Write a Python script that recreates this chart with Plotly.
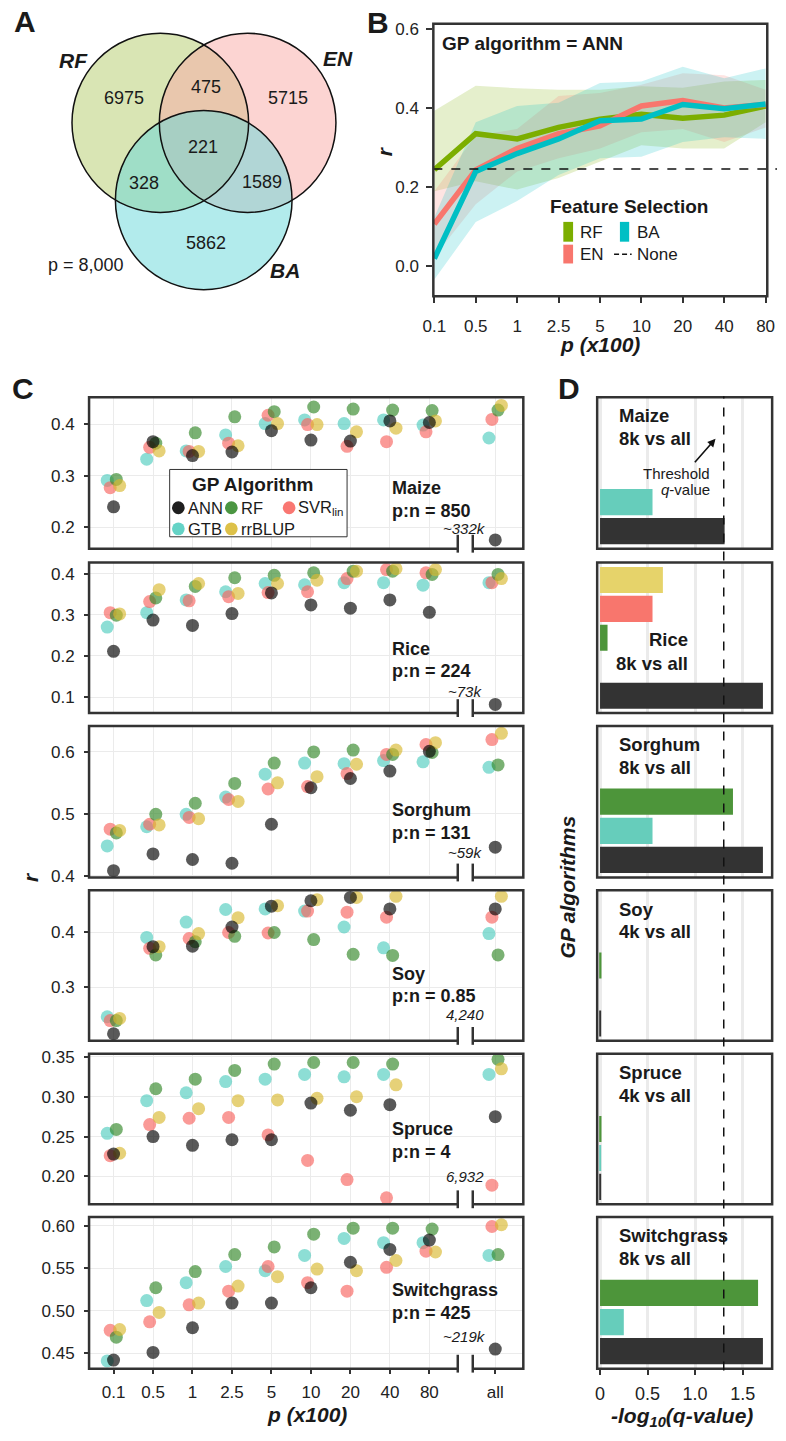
import math
import plotly.graph_objects as go

W, H = 786, 1441
def px(x): return x / W
def py(y): return 1 - y / H

FONT = "Liberation Sans, Arial, Helvetica, sans-serif"
NARROW = "Liberation Sans Narrow, Liberation Sans, Arial, sans-serif"
INK = "#1a1a1a"
FRAME = "#333333"
GRID = "#ebebeb"

# ---------------- data ----------------
# Panel A (Venn of selected markers)
VENN_REGIONS = ["RF", "RF&EN", "EN", "RF&BA", "RF&EN&BA", "EN&BA", "BA"]
VENN_COUNTS = [6975, 475, 5715, 328, 221, 1589, 5862]
VENN_TOTAL = "8,000"

# Panel B (ANN, feature selection)
B_P = ["0.1", "0.5", "1", "2.5", "5", "10", "20", "40", "80"]
B_RF = [0.244, 0.335, 0.322, 0.351, 0.372, 0.384, 0.374, 0.382, 0.405]
B_RF_LO = [0.190, 0.215, 0.194, 0.223, 0.264, 0.306, 0.298, 0.298, 0.364]
B_RF_HI = [0.393, 0.456, 0.450, 0.446, 0.446, 0.455, 0.451, 0.467, 0.471]
B_EN = [0.107, 0.244, 0.298, 0.335, 0.355, 0.405, 0.419, 0.400, 0.409]
B_EN_LO = [0.025, 0.157, 0.240, 0.273, 0.298, 0.339, 0.347, 0.314, 0.351]
B_EN_HI = [0.190, 0.330, 0.347, 0.430, 0.438, 0.459, 0.488, 0.483, 0.446]
B_BA = [0.020, 0.240, 0.285, 0.322, 0.368, 0.372, 0.409, 0.398, 0.410]
B_BA_LO = [-0.033, 0.112, 0.165, 0.231, 0.273, 0.277, 0.314, 0.326, 0.322]
B_BA_HI = [0.124, 0.364, 0.405, 0.413, 0.463, 0.467, 0.504, 0.475, 0.500]
B_NONE = 0.246

# Panel C
C_P = ["0.1", "0.5", "1", "2.5", "5", "10", "20", "40", "80", "all"]
C_POS = [0, 1, 2, 3, 4, 5, 6, 7, 8, 9.67]
ALGOS = ["ANN", "GTB", "RF", "SVR", "rrBLUP"]
SPECIES = ["Maize", "Rice", "Sorghum", "Soy", "Spruce", "Switchgrass"]
PN_RATIO = ["850", "224", "131", "0.85", "4", "425"]
ALL_MARKERS = ["~332k", "~73k", "~59k", "4,240", "6,932", "~219k"]

MAIZE = {
    "ANN":    [0.240, 0.366, 0.339, 0.346, 0.387, 0.369, 0.367, 0.406, 0.403, 0.176],
    "GTB":    [0.291, 0.332, 0.348, 0.379, 0.401, 0.408, 0.401, 0.408, 0.398, 0.373],
    "RF":     [0.293, 0.363, 0.383, 0.414, 0.424, 0.433, 0.429, 0.427, 0.426, 0.427],
    "SVR":    [0.277, 0.355, 0.347, 0.363, 0.417, 0.399, 0.357, 0.366, 0.385, 0.409],
    "rrBLUP": [0.281, 0.348, 0.347, 0.358, 0.401, 0.399, 0.385, 0.392, 0.406, 0.436],
}
RICE = {
    "ANN":    [0.211, 0.287, 0.274, 0.303, 0.353, 0.324, 0.316, 0.336, 0.306, 0.082],
    "GTB":    [0.270, 0.305, 0.336, 0.356, 0.376, 0.373, 0.378, 0.378, 0.372, 0.378],
    "RF":     [0.299, 0.341, 0.369, 0.390, 0.396, 0.402, 0.406, 0.406, 0.398, 0.398],
    "SVR":    [0.305, 0.332, 0.334, 0.344, 0.354, 0.356, 0.388, 0.410, 0.402, 0.378],
    "rrBLUP": [0.302, 0.361, 0.376, 0.352, 0.376, 0.384, 0.406, 0.412, 0.410, 0.388],
}
SORGHUM = {
    "ANN":    [0.408, 0.435, 0.426, 0.420, 0.483, 0.542, 0.557, 0.569, 0.601, 0.446],
    "GTB":    [0.448, 0.479, 0.499, 0.527, 0.564, 0.582, 0.581, 0.586, 0.584, 0.575],
    "RF":     [0.469, 0.499, 0.517, 0.549, 0.582, 0.600, 0.603, 0.596, 0.599, 0.579],
    "SVR":    [0.475, 0.483, 0.494, 0.523, 0.540, 0.544, 0.565, 0.596, 0.612, 0.620],
    "rrBLUP": [0.473, 0.482, 0.492, 0.520, 0.550, 0.560, 0.580, 0.603, 0.615, 0.630],
}
SOY = {
    "ANN":    [0.215, 0.374, 0.375, 0.410, 0.448, 0.458, 0.464, 0.443, None, 0.443],
    "GTB":    [0.246, 0.391, 0.419, 0.442, 0.443, 0.439, 0.410, 0.372, None, 0.398],
    "RF":     [0.239, 0.359, 0.383, 0.393, 0.400, 0.387, 0.360, 0.358, None, 0.359],
    "SVR":    [0.239, 0.371, 0.389, 0.400, 0.399, 0.439, 0.437, 0.428, None, 0.428],
    "rrBLUP": [0.243, 0.374, 0.398, 0.427, 0.449, 0.460, 0.464, 0.466, None, 0.466],
}
SPRUCE = {
    "ANN":    [0.228, 0.250, 0.239, 0.246, 0.246, 0.292, 0.283, 0.290, None, 0.275],
    "GTB":    [0.254, 0.295, 0.305, 0.319, 0.322, 0.328, 0.325, 0.328, None, 0.328],
    "RF":     [0.259, 0.310, 0.322, 0.333, 0.341, 0.343, 0.343, 0.341, None, 0.347],
    "SVR":    [0.226, 0.265, 0.273, 0.274, 0.252, 0.220, 0.196, 0.173, None, 0.189],
    "rrBLUP": [0.229, 0.274, 0.285, 0.295, 0.296, 0.298, 0.300, 0.315, None, 0.335],
}
SWITCHGRASS = {
    "ANN":    [0.442, 0.451, 0.480, 0.509, 0.509, 0.527, 0.557, 0.572, 0.583, 0.455],
    "GTB":    [0.441, 0.512, 0.533, 0.552, 0.547, 0.565, 0.585, 0.580, 0.580, 0.565],
    "RF":     [0.469, 0.527, 0.546, 0.566, 0.575, 0.590, 0.597, 0.597, 0.596, 0.566],
    "SVR":    [0.477, 0.487, 0.507, 0.523, 0.552, 0.533, 0.523, 0.551, 0.570, 0.599],
    "rrBLUP": [0.478, 0.498, 0.509, 0.529, 0.540, 0.549, 0.547, 0.559, 0.569, 0.601],
}
C_DATA = [MAIZE, RICE, SORGHUM, SOY, SPRUCE, SWITCHGRASS]
C_YTICKS = [[0.2, 0.3, 0.4], [0.1, 0.2, 0.3, 0.4], [0.4, 0.5, 0.6], [0.3, 0.4],
            [0.20, 0.25, 0.30, 0.35], [0.45, 0.50, 0.55, 0.60]]
C_YFMT = ["{:.1f}", "{:.1f}", "{:.1f}", "{:.1f}", "{:.2f}", "{:.2f}"]
C_YRANGE = [[0.159, 0.452], [0.061, 0.427], [0.397, 0.642], [0.202, 0.477],
            [0.165, 0.354], [0.432, 0.610]]

# Panel D: -log10(q-value), one value per species
D_ANN = [1.31, 1.713, 1.713, 0.006, 0.006, 1.713]
D_GTB = [0.552, 0.0, 0.552, 0.0, 0.012, 0.25]
D_RF = [0.0, 0.079, 1.398, 0.015, 0.015, 1.662]
D_SVR = [0.0, 0.552, 0.0, 0.0, 0.0, 0.0]
D_RRBLUP = [0.0, 0.661, 0.0, 0.0, 0.0, 0.0]
D_COMPARE = ["8k vs all", "8k vs all", "8k vs all", "4k vs all", "4k vs all", "8k vs all"]
Q_THRESHOLD = 0.05

# ---------------- styles ----------------
PT_COL = {"ANN": "#000000", "GTB": "#50cdbe", "RF": "#328728", "SVR": "#f8645f", "rrBLUP": "#d8b830"}
LEG_COL = {"ANN": "rgba(0,0,0,0.88)", "GTB": "rgba(80,205,190,0.88)", "RF": "rgba(50,135,40,0.88)",
           "SVR": "rgba(248,100,95,0.88)", "rrBLUP": "rgba(216,184,48,0.88)"}
BAR_COL = {"ANN": "#333333", "GTB": "#66cdbb", "RF": "#4d953a", "SVR": "#f8766d", "rrBLUP": "#e6d36a"}
DODGE = {"GTB": -0.16, "SVR": -0.085, "ANN": 0.0, "RF": 0.07, "rrBLUP": 0.155}
DRAW_ORDER = ["GTB", "SVR", "RF", "rrBLUP", "ANN"]
FS_COL = {"RF": "#7cae00", "EN": "#f8766d", "BA": "#00bfc4"}
FS_FILL = {"RF": "rgba(124,174,0,0.2)", "EN": "rgba(248,118,109,0.2)", "BA": "rgba(0,191,196,0.2)"}

# row pixel bounds (top, bottom) for C and D panels
ROWS = [(395, 548), (562, 714), (727, 880), (893, 1045), (1058, 1210), (1223, 1376)]
C_LABEL_Y = [(487, 510, 528), (649, 672, 692), (812, 835, 855), (977, 1000, 1018),
             (1134, 1157, 1182), (1297, 1320, 1344)]

fig = go.Figure()
layout = dict(width=W, height=H, autosize=False, margin=dict(l=0, r=0, t=0, b=0),
              paper_bgcolor="white", plot_bgcolor="rgba(0,0,0,0)", showlegend=False,
              font=dict(family=FONT, color=INK))
shapes, annos = [], []

def text(x, y, s, size, xanchor="center", yanchor="middle", angle=0, family=FONT, color=INK):
    annos.append(dict(x=px(x), y=py(y), xref="paper", yref="paper", text=s, showarrow=False,
                      xanchor=xanchor, yanchor=yanchor, textangle=angle,
                      font=dict(size=size, family=family, color=color)))

def frame(n):
    shapes.append(dict(type="rect", xref=f"x{n} domain", yref=f"y{n} domain", x0=0, x1=1, y0=0, y1=1,
                       line=dict(color=FRAME, width=2.5), fillcolor="rgba(0,0,0,0)", layer="above"))

# ---------------- Panel A: Venn ----------------
layout["xaxis"] = dict(domain=[0, px(360)], range=[0, 360], visible=False, fixedrange=True)
layout["yaxis"] = dict(domain=[py(300), 1], range=[300, 0], visible=False, fixedrange=True)
circles = {"RF": ((153, 118), 90.5, "#b3cb69"), "EN": ((242.5, 118), 90.5, "#f9a9a5"),
           "BA": ((197.5, 196), 90.5, "#65d7d9")}
for k in ["RF", "EN", "BA"]:
    (cx, cy), r, col = circles[k]
    shapes.append(dict(type="circle", xref="x", yref="y", x0=cx - r, x1=cx + r, y0=cy - r, y1=cy + r,
                       fillcolor=col, opacity=0.5, line=dict(width=0), layer="below"))
for k in ["RF", "EN", "BA"]:
    (cx, cy), r, col = circles[k]
    shapes.append(dict(type="circle", xref="x", yref="y", x0=cx - r, x1=cx + r, y0=cy - r, y1=cy + r,
                       fillcolor="rgba(0,0,0,0)", line=dict(width=1.5, color="#111111"), layer="above"))
venn_xy = {"RF": (115.7, 93.3), "RF&EN": (200, 81.7), "EN": (284, 93), "RF&BA": (136, 178.3),
           "RF&EN&BA": (197, 142.7), "EN&BA": (257, 178), "BA": (200, 239.3)}
for reg, cnt in zip(VENN_REGIONS, VENN_COUNTS):
    x, y = venn_xy[reg]
    text(x, y, str(cnt), 18)
text(64, 55, "<b><i>RF</i></b>", 21)
text(335, 53, "<b><i>EN</i></b>", 21)
text(281, 267, "<b><i>BA</i></b>", 21)
text(76.7, 261.7, f"p = {VENN_TOTAL}", 18)

# ---------------- Panel B ----------------
layout["xaxis2"] = dict(domain=[px(432.8), px(775)], type="category", range=[-0.024, 8.04],
                        anchor="y2", showgrid=False, zeroline=False, ticks="outside", ticklen=6,
                        tickwidth=1.5, tickcolor=FRAME, tickfont=dict(size=17, color="#222"),
                        ticklabelstandoff=8, fixedrange=True)
layout["yaxis2"] = dict(domain=[py(293), py(18)], range=[-0.075, 0.6125], anchor="x2",
                        tickvals=[0, 0.2, 0.4, 0.6], ticktext=["0.0", "0.2", "0.4", "0.6"],
                        showgrid=False, zeroline=False, ticks="outside", ticklen=6, tickwidth=1.5,
                        tickcolor=FRAME, tickfont=dict(size=17, color="#222"), ticklabelstandoff=4,
                        fixedrange=True)
for key, lo, hi in [("RF", B_RF_LO, B_RF_HI), ("EN", B_EN_LO, B_EN_HI), ("BA", B_BA_LO, B_BA_HI)]:
    fig.add_trace(go.Scatter(x=B_P + B_P[::-1], y=hi + lo[::-1], fill="toself", fillcolor=FS_FILL[key],
                             line=dict(width=0), mode="lines", xaxis="x2", yaxis="y2", hoverinfo="skip"))
for key, vals in [("RF", B_RF), ("EN", B_EN), ("BA", B_BA)]:
    fig.add_trace(go.Scatter(x=B_P, y=vals, mode="lines", line=dict(color=FS_COL[key], width=5.5),
                             xaxis="x2", yaxis="y2", name=key))
shapes.append(dict(type="line", xref="paper", yref="y2", x0=px(432.8), x1=px(785), y0=B_NONE, y1=B_NONE,
                   line=dict(color="#111111", width=1.5, dash="dash"), layer="above"))
frame(2)
text(439.5, 38, "<b>GP algorithm = ANN</b>", 19, xanchor="left")
text(550, 202, "<b>Feature Selection</b>", 19, xanchor="left")
for (x0, x1, y0, y1, k) in [(566, 576, 218, 238, "RF"), (624, 633.5, 218, 238, "BA"), (566, 576, 241, 260, "EN")]:
    shapes.append(dict(type="rect", xref="paper", yref="paper", x0=px(x0), x1=px(x1), y0=py(y1), y1=py(y0),
                       fillcolor=FS_COL[k], line=dict(width=0), layer="above"))
shapes.append(dict(type="line", xref="paper", yref="paper", x0=px(618), x1=px(636), y0=py(250.7), y1=py(250.7),
                   line=dict(color="#111111", width=1.5, dash="5px,3px"), layer="above"))
text(581, 229, "RF", 17, xanchor="left")
text(639, 229, "BA", 17, xanchor="left")
text(581, 250.7, "EN", 17, xanchor="left")
text(639, 250.7, "None", 17, xanchor="left")
text(383, 147, "<b><i>r</i></b>", 21, angle=-90)
text(604, 342, "<b><i>p (x100)</i></b>", 21)

# ---------------- Panel C ----------------
for i, (sp, data) in enumerate(zip(SPECIES, C_DATA)):
    n = 3 + i
    top, bot = ROWS[i]
    last = (i == len(SPECIES) - 1)
    layout[f"xaxis{n}"] = dict(domain=[px(80), px(525)], range=[-0.62, 10.38], anchor=f"y{n}",
                               tickvals=C_POS, ticktext=C_P, showticklabels=last,
                               ticks="outside" if last else "", ticklen=4, tickwidth=1.5, tickcolor=FRAME,
                               showgrid=True, gridcolor=GRID, gridwidth=1.3, zeroline=False,
                               tickfont=dict(size=17, color="#222"), ticklabelstandoff=4, fixedrange=True)
    layout[f"yaxis{n}"] = dict(domain=[py(bot), py(top)], range=C_YRANGE[i], anchor=f"x{n}",
                               tickvals=C_YTICKS[i], ticktext=[C_YFMT[i].format(v) for v in C_YTICKS[i]],
                               ticks="outside", ticklen=4, tickwidth=1.5, tickcolor=FRAME,
                               showgrid=True, gridcolor=GRID, gridwidth=1.3, zeroline=False,
                               tickfont=dict(size=17, color="#222"), ticklabelstandoff=6, fixedrange=True)
    for a in DRAW_ORDER:
        xs = [p + DODGE[a] for p in C_POS]
        fig.add_trace(go.Scatter(x=xs, y=data[a], mode="markers", xaxis=f"x{n}", yaxis=f"y{n}",
                                 marker=dict(size=13, color=PT_COL[a], opacity=0.65, line=dict(width=0)),
                                 name=a))
    frame(n)
    # axis break on bottom frame
    shapes.append(dict(type="rect", xref=f"x{n}", yref="paper", x0=8.74, x1=9.08, y0=py(bot + 2.5), y1=py(bot - 2.5),
                       fillcolor="white", line=dict(width=0), layer="above"))
    for bx in (8.72, 9.10):
        shapes.append(dict(type="line", xref=f"x{n}", yref="paper", x0=bx, x1=bx, y0=py(bot + 4), y1=py(bot - 14),
                           line=dict(color=FRAME, width=2.5), layer="above"))
    y1, y2, y3 = C_LABEL_Y[i]
    text(388.4, y1, f"<b>{sp}</b>", 18, xanchor="left")
    text(388.4, y2, f"<b>p:n = {PN_RATIO[i]}</b>", 18, xanchor="left")
    text(465, y3, f"<i>{ALL_MARKERS[i]}</i>", 15)

# legend inside Maize panel
shapes.append(dict(type="rect", xref="paper", yref="paper", x0=px(162.6), x1=px(344.4), y0=py(536), y1=py(468),
                   fillcolor="white", line=dict(color="#333333", width=1), layer="above"))
text(247, 483, "<b>GP Algorithm</b>", 19)
leg_items = [("ANN", 171.5, 506.7, "ANN"), ("RF", 225.8, 506.7, "RF"), ("SVR", 285, 506.7, "SVR<sub>lin</sub>"),
             ("GTB", 171.5, 528, "GTB"), ("rrBLUP", 225.8, 528, "rrBLUP")]
for a, x, y, lab in leg_items:
    shapes.append(dict(type="circle", xref="paper", yref="paper", x0=px(x - 6.5), x1=px(x + 6.5),
                       y0=py(y + 6.5), y1=py(y - 6.5), fillcolor=LEG_COL[a], line=dict(width=0), layer="above"))
    text(x + 7.5, y, lab, 16.5, xanchor="left")

text(20, 880, "<b><i>r</i></b>", 21, angle=-90)
text(303, 1422, "<b><i>p (x100)</i></b>", 21)

# ---------------- Panel D ----------------
thr = -math.log10(Q_THRESHOLD)
D_BY_ALGO = {"ANN": D_ANN, "GTB": D_GTB, "RF": D_RF, "SVR": D_SVR, "rrBLUP": D_RRBLUP}
for i, sp in enumerate(SPECIES):
    n = 9 + i
    top, bot = ROWS[i]
    last = (i == len(SPECIES) - 1)
    layout[f"xaxis{n}"] = dict(domain=[px(600.7), px(780)], range=[-0.03, 1.81], anchor=f"y{n}",
                               tickvals=[0, 0.5, 1.0, 1.5], ticktext=["0", "0.5", "1.0", "1.5"],
                               showticklabels=last, ticks="outside" if last else "", ticklen=5, tickwidth=1.5,
                               tickcolor=FRAME, showgrid=True, gridcolor=GRID, gridwidth=3, zeroline=False,
                               tickfont=dict(size=18, family=NARROW, color="#222"), ticklabelstandoff=4,
                               fixedrange=True)
    layout[f"yaxis{n}"] = dict(domain=[py(bot), py(top)], type="category", categoryorder="array",
                               categoryarray=ALGOS, range=[-0.6, 4.6], anchor=f"x{n}", showticklabels=False,
                               showgrid=False, zeroline=False, ticks="", fixedrange=True)
    vals = [D_BY_ALGO[a][i] for a in ALGOS]
    fig.add_trace(go.Bar(x=vals, y=ALGOS, orientation="h", width=0.9, xaxis=f"x{n}", yaxis=f"y{n}",
                         marker=dict(color=[BAR_COL[a] for a in ALGOS], line=dict(width=0)), hoverinfo="skip"))
    frame(n)
    if sp == "Rice":
        text(696, top + (638 - 560), f"<b>{sp}</b>", 18.5, xanchor="right")
        text(696, top + (662 - 560), f"<b>{D_COMPARE[i]}</b>", 18.5, xanchor="right")
    else:
        text(621, top + 19, f"<b>{sp}</b>", 18.5, xanchor="left")
        text(621, top + 42, f"<b>{D_COMPARE[i]}</b>", 18.5, xanchor="left")

shapes.append(dict(type="line", xref="x9", yref="paper", x0=thr, x1=thr, y0=py(1378), y1=py(394),
                   line=dict(color="#111111", width=1.5, dash="dash"), layer="above"))
text(718, 472, "Threshold", 15, xanchor="right")
text(718, 488, "<i>q</i>-value", 15, xanchor="right")
annos.append(dict(x=px(722), y=py(437), xref="paper", yref="paper", ax=-22, ay=25, axref="pixel", ayref="pixel",
                  text="", showarrow=True, arrowhead=2, arrowsize=1, arrowwidth=1.6, arrowcolor="#111111"))
text(570, 890, "<b><i>GP algorithms</i></b>", 21, angle=-90)
text(688, 1425, "<b><i>-log<sub>10</sub>(q-value)</i></b>", 21)

# panel tags
text(14, 16, "<b>A</b>", 30)
text(376.6, 17, "<b>B</b>", 30)
text(12, 386, "<b>C</b>", 30)
text(572, 386, "<b>D</b>", 30)

layout["shapes"] = shapes
layout["annotations"] = annos
fig.update_layout(**layout)
fig.write_html("out.html", config={"displayModeBar": False},
               post_script="document.body.style.margin='0px';document.body.style.overflow='hidden';")
